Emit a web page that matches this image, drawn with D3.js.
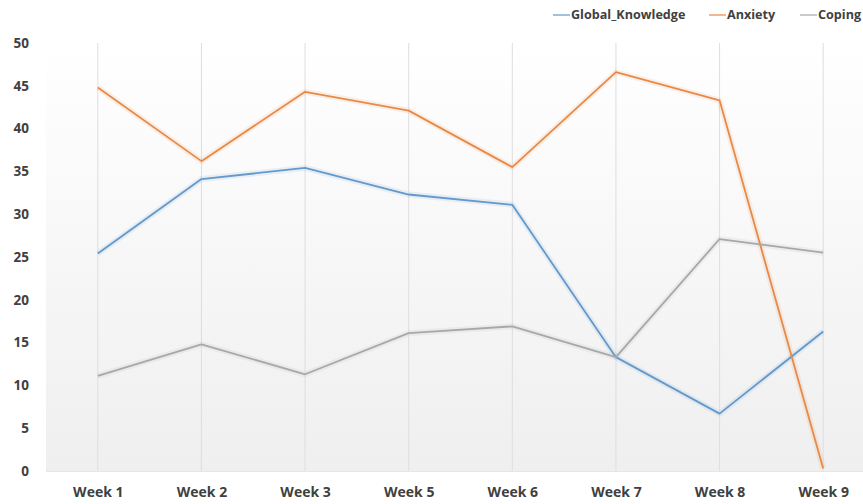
<!DOCTYPE html>
<html>
<head>
<meta charset="utf-8">
<script src="https://cdn.jsdelivr.net/npm/d3@7"></script>
<style>
  html, body { margin: 0; padding: 0; background: #ffffff; }
  svg { display: block; }
  text { font-family: "Open Sans", "Liberation Sans", sans-serif; font-weight: 700; fill: #404040; }
</style>
</head>
<body>
<svg id="chart" width="863" height="504"></svg>
<script>
const categories = ["Week 1", "Week 2", "Week 3", "Week 5", "Week 6", "Week 7", "Week 8", "Week 9"];
const globalKnowledge = [25.4, 34.1, 35.4, 32.3, 31.1, 13.3, 6.7, 16.3];
const anxiety = [44.8, 36.2, 44.3, 42.1, 35.5, 46.6, 43.3, 0.3];
const coping = [11.1, 14.8, 11.3, 16.1, 16.9, 13.3, 27.1, 25.5];
const yTicks = [0, 5, 10, 15, 20, 25, 30, 35, 40, 45, 50];
const seriesNames = ["Global_Knowledge", "Anxiety", "Coping"];
const seriesColors = ["#6499cb", "#e88a47", "#a8a8a8"];

const series = [globalKnowledge, anxiety, coping].map((v, i) => ({
  name: seriesNames[i], color: seriesColors[i], values: v
}));

const svg = d3.select("#chart");
const plot = { left: 46, right: 875, top: 43, bottom: 471 };

const x = d3.scalePoint().domain(categories).range([plot.left, plot.right]).padding(0.5);
const y = d3.scaleLinear().domain([0, 50]).range([plot.bottom, plot.top]);

// background gradient
const defs = svg.append("defs");
const grad = defs.append("linearGradient").attr("id", "bg").attr("x1", 0).attr("y1", 0).attr("x2", 0).attr("y2", 1);
grad.append("stop").attr("offset", "0%").attr("stop-color", "#ffffff");
grad.append("stop").attr("offset", "100%").attr("stop-color", "#efefef");
svg.append("rect")
  .attr("x", plot.left).attr("y", plot.top)
  .attr("width", plot.right - plot.left).attr("height", plot.bottom - plot.top)
  .attr("fill", "url(#bg)");

// vertical gridlines at categories
svg.append("g").selectAll("line").data(categories).join("line")
  .attr("x1", d => x(d)).attr("x2", d => x(d))
  .attr("y1", plot.top).attr("y2", plot.bottom)
  .attr("stroke", "#dedede").attr("stroke-width", 1);

// baseline
svg.append("line")
  .attr("x1", plot.left).attr("x2", plot.right)
  .attr("y1", plot.bottom + 0.5).attr("y2", plot.bottom + 0.5)
  .attr("stroke", "#e6e6e6");

// y axis
const yAxis = svg.append("g").attr("transform", `translate(${29},0)`)
  .call(d3.axisLeft(y).tickValues(yTicks).tickSize(0).tickPadding(0));
yAxis.select(".domain").remove();
yAxis.selectAll("text").attr("font-size", 13.5).attr("fill", "#404040")
  .style("font-family", "'Open Sans', sans-serif").style("font-weight", 700);

// x axis
const xAxis = svg.append("g").attr("transform", `translate(0,${plot.bottom})`)
  .call(d3.axisBottom(x).tickSize(0).tickPadding(16));
xAxis.select(".domain").remove();
xAxis.selectAll("text").attr("font-size", 14).attr("fill", "#404040")
  .style("font-family", "'Open Sans', sans-serif").style("font-weight", 700);

// lines
const line = d3.line().x((d, i) => x(categories[i])).y(d => y(d));
const g = svg.append("g");
series.forEach(s => {
  g.append("path").datum(s.values)
    .attr("d", line).attr("fill", "none")
    .attr("stroke", s.color).attr("stroke-width", 6).attr("stroke-opacity", 0.12)
    .attr("stroke-linejoin", "round");
});
series.forEach(s => {
  g.append("path").datum(s.values)
    .attr("d", line).attr("fill", "none")
    .attr("stroke", s.color).attr("stroke-width", 1.8)
    .attr("stroke-linejoin", "round");
});

// legend
const legendX = [553, 709, 800];
const legend = svg.append("g");
series.forEach((s, i) => {
  const lg = legend.append("g").attr("transform", `translate(${legendX[i]},15)`);
  lg.append("line").attr("x1", 0).attr("x2", 17).attr("y1", 0).attr("y2", 0)
    .attr("stroke", s.color).attr("stroke-width", 1.5).attr("stroke-opacity", 0.8);
  lg.append("text").attr("x", 18).attr("y", 0).attr("dy", "0.35em")
    .attr("font-size", 12.6).text(s.name);
});
</script>
</body>
</html>
